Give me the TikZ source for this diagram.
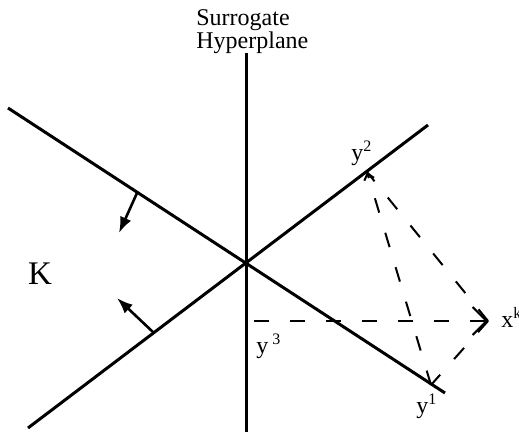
\documentclass[tikz,border=0pt]{standalone}
\usepackage{fontspec}
\setmainfont{Liberation Serif}
\usetikzlibrary{arrows.meta, positioning}

\begin{document}
\begin{tikzpicture}[x=0.5pt, y=-0.5pt, >=Latex,
        plano/.style={line width=1.5pt},
        proy/.style={line width=1pt, dash pattern=on 7.5pt off 10.5pt},
        normal/.style={-{Latex[length=8pt,width=6pt]}, line width=1.3pt},
        etiq/.style={font=\fontsize{12}{11.5}\selectfont, inner sep=0pt}]
    \useasboundingbox (0,0) rectangle (519,433);
    % puntos de los hiperplanos
    \coordinate (c) at (246,263);
    \coordinate (sup) at (246,53);
    \coordinate (inf) at (246,432);
    \coordinate (a1) at (8,108);
    \coordinate (a2) at (445,393);
    \coordinate (b1) at (28,428);
    \coordinate (b2) at (428,125);
    \coordinate (y1) at (431,385);
    \coordinate (y2) at (367,172);
    \coordinate (y3) at (254,321);
    \coordinate (xk) at (488,321);
    \coordinate (n1) at (137,193);
    \coordinate (m1) at (119,233);
    \coordinate (n2) at (154,333);
    \coordinate (m2) at (117,298);
    % textos
    \node[etiq, align=left, anchor=north west] (sh) at (196,9) {Surrogate\\Hyperplane};
    \node[font=\fontsize{16.5}{18}\selectfont, inner sep=0pt] (K) at (40,274) {K};
    \node[etiq, anchor=base west] (ly2) at (351,160) {y\textsuperscript{2}};
    \node[etiq, anchor=base west] (ly3) at (256,353) {y\,\textsuperscript{3}};
    \node[etiq, anchor=base west] (ly1) at (416,413) {y\textsuperscript{1}};
    \node[etiq, anchor=base west] (lxk) at (501,327) {x\textsuperscript{k}};
    % hiperplanos
    \draw[plano] (sup) -- (inf);
    \draw[plano] (a1) -- (a2);
    \draw[plano] (b1) -- (b2);
    \draw[normal] (n1) -- (m1);
    \draw[normal] (n2) -- (m2);
    % proyecciones
    \draw[proy, -{Straight Barb[length=7pt,width=14pt]}] (y3) -- (xk);
    \draw[proy] (xk) -- (y2);
    \draw[proy] (xk) -- (y1);
    \draw[proy, -{Straight Barb[length=3pt,width=5pt]}] (y1) -- (y2);
\end{tikzpicture}
\end{document}
